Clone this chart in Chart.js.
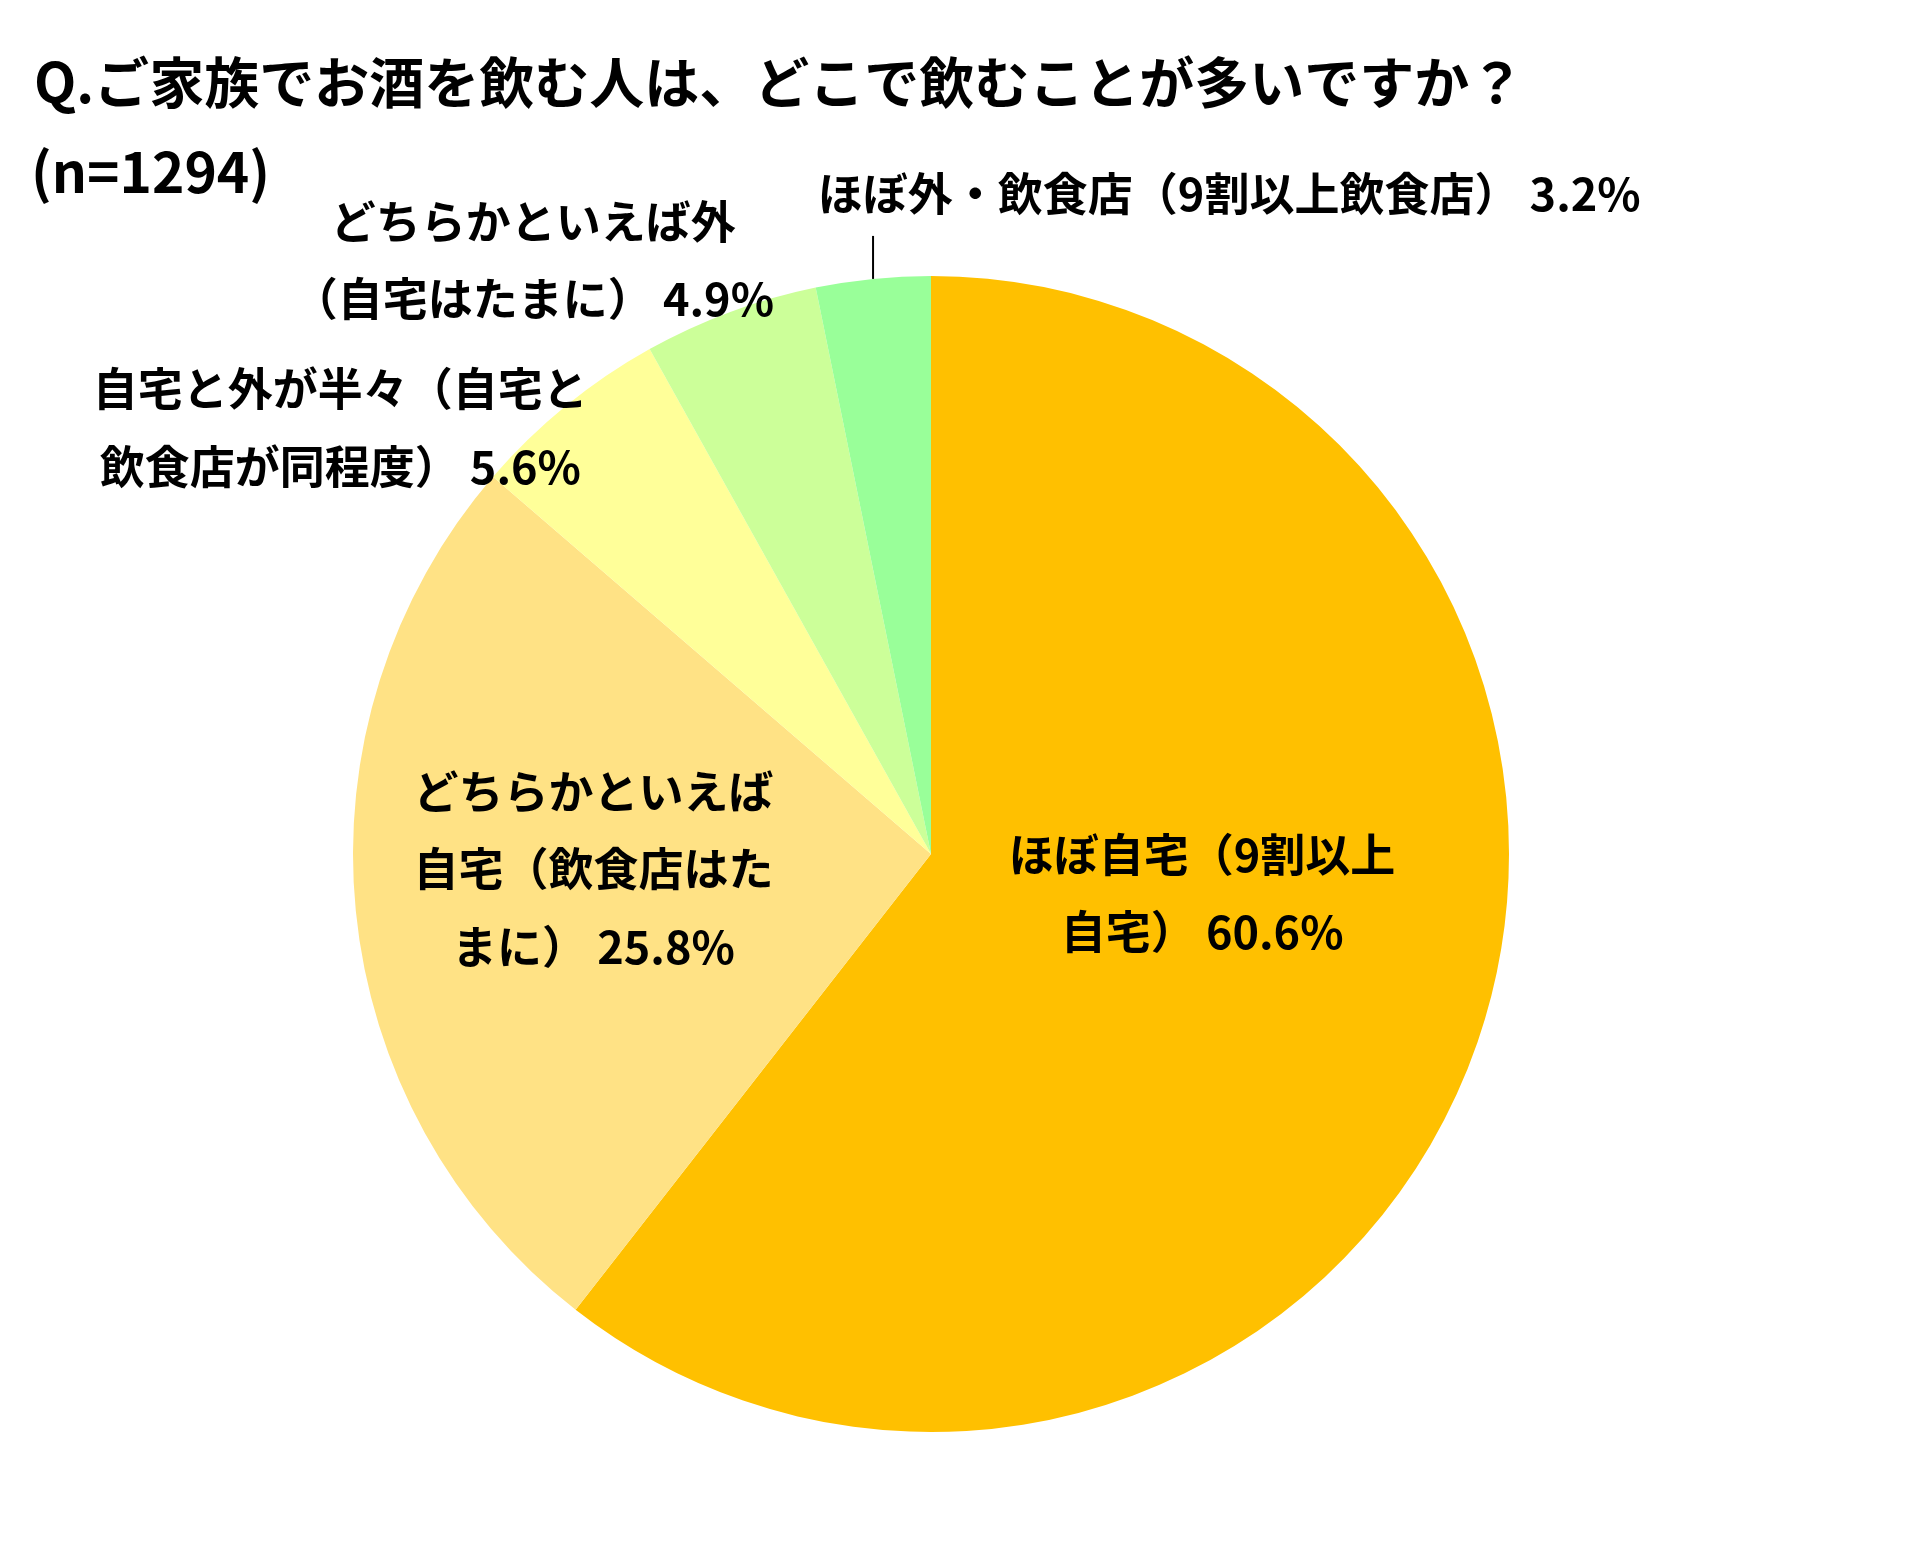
<!DOCTYPE html>
<html lang="ja">
<head>
<meta charset="utf-8">
<script src="https://cdn.jsdelivr.net/npm/chart.js@4.4.1/dist/chart.umd.min.js"></script>
<style>
  html, body { margin: 0; padding: 0; background: #fff; }
  #wrap { width: 1915px; height: 1568px; position: relative; }
</style>
</head>
<body>
<div id="wrap"><canvas id="chart"></canvas></div>
<script>
const title = 'Q.ご家族でお酒を飲む人は、どこで飲むことが多いですか？';
const subtitle = '(n=1294)';

const categories = [
    'ほぼ自宅（9割以上自宅）',
    'どちらかといえば自宅（飲食店はたまに）',
    '自宅と外が半々（自宅と飲食店が同程度）',
    'どちらかといえば外（自宅はたまに）',
    'ほぼ外・飲食店（9割以上飲食店）'
];
const values = [60.6, 25.8, 5.6, 4.9, 3.2];
const colors = ['#FFC000', '#FFE285', '#FFFF99', '#CCFF99', '#99FF99'];

// label text as wrapped in the original, value is appended to the last line
const labelLines = [
    ['ほぼ自宅（9割以上', '自宅）'],
    ['どちらかといえば', '自宅（飲食店はた', 'まに）'],
    ['自宅と外が半々（自宅と', '飲食店が同程度）'],
    ['どちらかといえば外', '（自宅はたまに）'],
    ['ほぼ外・飲食店（9割以上飲食店）']
];
// label centre, relative to pie centre in units of radius
const labelPos = [
    [0.469, 0.068],
    [-0.584, 0.026],
    [-1.022, -0.737],
    [-0.688, -1.027],
    [0.516, -1.142]
];

const FONT = '"Noto Sans CJK JP", "Noto Sans", sans-serif';

const labelPlugin = {
    id: 'pieLabels',
    afterDatasetsDraw(chart) {
        const c = chart.ctx;
        const arcs = chart.getDatasetMeta(0).data;
        c.save();
        c.fillStyle = '#000';
        c.textAlign = 'center';
        c.textBaseline = 'middle';
        c.font = 'bold 45px ' + FONT;
        const lh = 77.5;
        arcs.forEach((arc, i) => {
            const { x, y, outerRadius } = arc.getProps(['x', 'y', 'outerRadius'], true);
            const lines = labelLines[i].slice();
            lines[lines.length - 1] += ' ' + values[i].toFixed(1) + '%';
            const lx = x + labelPos[i][0] * outerRadius;
            const ly = y + labelPos[i][1] * outerRadius;
            const top = ly - (lines.length - 1) * lh / 2;
            lines.forEach((t, k) => c.fillText(t, lx, top + k * lh));

            // leader line for the small slice at the top
            if (i === 4) {
                const { startAngle, endAngle } = arc.getProps(['startAngle', 'endAngle'], true);
                const mid = (startAngle + endAngle) / 2;
                const ex = x + Math.cos(mid) * outerRadius;
                const ey = y + Math.sin(mid) * outerRadius;
                c.strokeStyle = '#000';
                c.lineWidth = 2;
                c.beginPath();
                c.moveTo(ex, ey);
                c.lineTo(ex, top + 42);
                c.stroke();
            }
        });

        // title
        c.textAlign = 'left';
        c.font = 'bold 55px ' + FONT;
        c.fillText(title, 34, 82);
        c.fillText(subtitle, 31, 172);
        c.restore();
    }
};

const ctx = document.getElementById('chart').getContext('2d');
const chart = new Chart(ctx, {
    type: 'pie',
    data: {
        labels: categories,
        datasets: [{
            data: values,
            backgroundColor: colors,
            borderWidth: 0,
            hoverOffset: 0
        }]
    },
    options: {
        responsive: true,
        maintainAspectRatio: false,
        devicePixelRatio: 1,
        animation: false,
        events: [],
        layout: {
            padding: { left: 353, right: 406, top: 276, bottom: 136 }
        },
        plugins: {
            legend: { display: false },
            tooltip: { enabled: false }
        }
    },
    plugins: [labelPlugin]
});
</script>
</body>
</html>
